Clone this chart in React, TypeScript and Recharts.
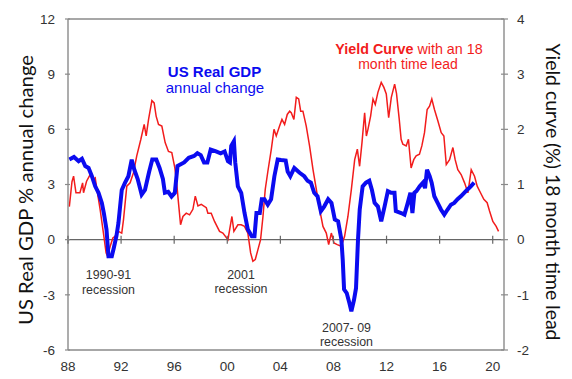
import React from "react"
import { LineChart, Line, XAxis, YAxis, ReferenceLine } from "recharts"

// US real GDP, % annual change (left axis), quarterly readings
const gdp: [number, number][] = [
  [1988.1, 4.36], [1988.45, 4.5], [1988.8, 4.27], [1989.05, 4.4], [1989.3, 4.0], [1989.55, 3.9],
  [1989.8, 3.45], [1990.05, 2.9], [1990.3, 2.55], [1990.55, 2.0], [1990.7, 1.45], [1990.9, 0.55],
  [1991.05, -0.9], [1991.3, -0.9], [1991.45, -0.45], [1991.65, 0.2], [1991.8, 0.9], [1992.05, 2.7],
  [1992.3, 3.1], [1992.55, 3.45], [1992.8, 4.35], [1993.0, 3.8], [1993.25, 3.3], [1993.55, 2.45],
  [1993.8, 2.7], [1994.1, 3.65], [1994.35, 4.36], [1994.65, 4.36], [1994.9, 3.9], [1995.15, 3.3],
  [1995.3, 2.55], [1995.55, 2.6], [1995.8, 2.35], [1996.05, 2.55], [1996.25, 4.0], [1996.75, 4.2],
  [1997.1, 4.45], [1997.5, 4.55], [1997.75, 4.7], [1998.0, 4.6], [1998.25, 4.2], [1998.5, 4.2],
  [1998.75, 4.9], [1999.15, 4.8], [1999.5, 4.7], [1999.8, 4.8], [2000.05, 4.27], [2000.2, 4.2],
  [2000.3, 5.1], [2000.5, 5.35], [2000.6, 4.2], [2000.8, 2.9], [2001.05, 2.55], [2001.3, 1.45],
  [2001.55, 0.55], [2001.85, 0.18], [2002.05, 0.18], [2002.2, 1.45], [2002.45, 1.45], [2002.6, 2.2],
  [2002.8, 2.2], [2003.05, 1.9], [2003.3, 2.2], [2003.55, 3.45], [2003.8, 4.36], [2004.05, 4.33],
  [2004.4, 4.3], [2004.55, 3.7], [2004.75, 3.45], [2005.05, 3.9], [2005.45, 3.64], [2005.8, 3.45],
  [2006.05, 3.2], [2006.3, 3.1], [2006.55, 2.55], [2006.8, 2.36], [2007.05, 1.55], [2007.3, 1.8],
  [2007.6, 2.2], [2007.85, 2.0], [2008.1, 1.1], [2008.35, 1.0], [2008.6, 0.0], [2008.7, -1.1],
  [2008.8, -2.7], [2009.0, -2.9], [2009.2, -3.45], [2009.35, -3.9], [2009.55, -3.27], [2009.7, -2.64],
  [2009.85, 0.0], [2009.98, 1.64], [2010.2, 2.9], [2010.45, 3.1], [2010.7, 3.2], [2010.9, 2.7],
  [2011.1, 2.0], [2011.35, 1.8], [2011.6, 1.0], [2011.85, 1.8], [2012.1, 2.64], [2012.35, 2.55],
  [2012.6, 2.55], [2012.7, 1.55], [2013.1, 1.45], [2013.35, 1.36], [2013.6, 2.0], [2013.8, 2.55],
  [2013.95, 1.45], [2014.1, 2.55], [2014.25, 2.64], [2014.5, 2.9], [2014.75, 3.1], [2014.9, 2.8],
  [2015.05, 3.8], [2015.25, 3.45], [2015.4, 3.1], [2015.6, 2.36], [2015.85, 2.0], [2016.1, 1.64],
  [2016.35, 1.36], [2016.6, 1.64], [2016.85, 1.9], [2017.1, 2.0], [2017.35, 2.2], [2017.6, 2.36],
  [2017.85, 2.55], [2018.1, 2.73], [2018.35, 2.9], [2018.6, 3.1],
]

// yield curve %, shifted 18 months ahead (right axis)
const yieldCurve: [number, number][] = [
  [1988.1, 0.6], [1988.3, 1.05], [1988.42, 1.15], [1988.6, 0.85], [1988.9, 0.85], [1989.1, 1.03],
  [1989.17, 0.85], [1989.4, 1.06], [1989.67, 1.18], [1989.87, 1.09], [1990.05, 1.12], [1990.22, 0.85],
  [1990.42, 0.55], [1990.67, 0.12], [1990.87, -0.24], [1990.98, -0.3], [1991.18, -0.12], [1991.38, 0.03],
  [1991.55, 0.06], [1991.8, 0.15], [1992.05, 0.12], [1992.18, 0.36], [1992.43, 0.97], [1992.68, 1.03],
  [1992.93, 1.21], [1993.18, 1.52], [1993.49, 1.82], [1993.74, 2.09], [1993.89, 1.88], [1994.07, 2.18],
  [1994.32, 2.52], [1994.49, 2.48], [1994.64, 2.24], [1994.82, 2.09], [1995.07, 2.06], [1995.32, 1.76],
  [1995.57, 1.6], [1995.82, 1.58], [1996.05, 1.3], [1996.2, 1.0], [1996.3, 0.73], [1996.48, 0.27],
  [1996.66, 0.42], [1996.91, 0.48], [1997.16, 0.45], [1997.41, 0.55], [1997.59, 0.79], [1997.79, 0.61],
  [1998.04, 0.64], [1998.42, 0.58], [1998.54, 0.48], [1998.79, 0.48], [1999.04, 0.33], [1999.42, 0.15],
  [1999.67, 0.12], [2000.05, 0.0], [2000.35, 0.42], [2000.5, 0.15], [2000.8, 0.27], [2001.05, 0.27],
  [2001.3, 0.24], [2001.55, 0.12], [2001.76, -0.24], [2001.93, -0.39], [2002.11, -0.36], [2002.31, -0.18],
  [2002.51, 0.0], [2002.69, 0.42], [2002.86, 0.91], [2003.06, 1.24], [2003.32, 1.64], [2003.52, 2.0],
  [2003.69, 1.88], [2003.94, 2.06], [2004.12, 2.18], [2004.32, 2.09], [2004.52, 2.27], [2004.7, 2.33],
  [2004.82, 2.3], [2005.02, 2.18], [2005.2, 2.58], [2005.38, 2.55], [2005.53, 2.33], [2005.7, 2.33],
  [2005.95, 2.06], [2006.2, 1.7], [2006.46, 1.27], [2006.71, 0.91], [2006.96, 0.55], [2007.21, 0.24],
  [2007.46, 0.12], [2007.64, -0.09], [2007.84, 0.12], [2008.04, -0.06], [2008.29, -0.09], [2008.59, -0.12],
  [2008.84, 0.06], [2009.09, 0.42], [2009.35, 0.91], [2009.6, 1.45], [2009.8, 1.64], [2009.97, 1.33],
  [2010.15, 1.76], [2010.35, 2.3], [2010.48, 1.88], [2010.6, 2.0], [2010.8, 2.24], [2010.98, 2.55],
  [2011.15, 2.45], [2011.35, 2.67], [2011.6, 2.85], [2011.8, 2.76], [2011.98, 2.64], [2012.16, 2.21],
  [2012.36, 2.58], [2012.61, 2.82], [2012.75, 2.65], [2012.95, 2.2], [2013.1, 1.82], [2013.23, 1.73],
  [2013.48, 1.7], [2013.65, 1.82], [2013.85, 1.3], [2014.05, 1.45], [2014.23, 1.52], [2014.48, 1.55],
  [2014.66, 1.7], [2014.86, 1.94], [2015.06, 2.36], [2015.24, 2.42], [2015.41, 2.55], [2015.61, 2.36],
  [2015.87, 2.15], [2016.12, 1.94], [2016.32, 1.88], [2016.5, 1.36], [2016.75, 1.45], [2017.0, 1.67],
  [2017.17, 1.45], [2017.37, 1.27], [2017.62, 1.18], [2017.88, 1.03], [2018.13, 0.85], [2018.38, 1.27],
  [2018.63, 1.15], [2018.83, 0.97], [2019.08, 0.85], [2019.33, 0.73], [2019.58, 0.67], [2019.76, 0.52],
  [2020.01, 0.33], [2020.26, 0.24], [2020.44, 0.15],
]

const yearTicks = [1988, 1992, 1996, 2000, 2004, 2008, 2012, 2016, 2020]
const gdpTicks = [-6, -3, 0, 3, 6, 9, 12]
const curveTicks = [-2, -1, 0, 1, 2, 3, 4]

const recessionNotes = [
  { top: "1990-91", bottom: "recession" },
  { top: "2001", bottom: "recession" },
  { top: "2007- 09", bottom: "recession" },
]

const W = 572
const H = 379
const PLOT_L = 68
const PLOT_R = 504
const PLOT_T = 19
const PLOT_B = 350
const ZERO_Y = PLOT_T + ((PLOT_B - PLOT_T) * 12) / 18

const AXIS = "#8a8a8a"
const TICK_TXT = "#333"
const BLUE = "#0b0bf0"
const RED = "#f21c1c"
const FONT = "'Liberation Sans', Arial, sans-serif"

const gdpData = gdp.map(([year, value]) => ({ year, value }))
const curveData = yieldCurve.map(([year, value]) => ({ year, value }))

const XTick = (props: any) => {
  const { x, y, payload } = props
  const label = String(payload.value % 100).padStart(2, "0")
  return (
    <g>
      <line x1={x} x2={x} y1={ZERO_Y - 4} y2={ZERO_Y + 4} stroke="#666" strokeWidth={1.2} />
      <text x={x} y={y} dy="0.71em" textAnchor="middle" fontSize={13.5} fill={TICK_TXT} fontFamily={FONT}>
        {label}
      </text>
    </g>
  )
}

const LeftTick = (props: any) => {
  const { x, y, payload } = props
  return (
    <g>
      <line x1={PLOT_L - 3} x2={PLOT_L + 2} y1={y} y2={y} stroke={AXIS} strokeWidth={1.2} />
      <text x={x} y={y} dy="0.35em" textAnchor="end" fontSize={13.5} fill={TICK_TXT} fontFamily={FONT}>
        {payload.value}
      </text>
    </g>
  )
}

const RightTick = (props: any) => {
  const { x, y, payload } = props
  return (
    <g>
      <line x1={PLOT_R - 3} x2={PLOT_R + 4} y1={y} y2={y} stroke={AXIS} strokeWidth={1.2} />
      <text x={x} y={y} dy="0.35em" textAnchor="start" fontSize={13.5} fill={TICK_TXT} fontFamily={FONT}>
        {payload.value}
      </text>
    </g>
  )
}

export default function App() {
  const notePos = [
    { x: 108.5, y: 279.3 },
    { x: 241, y: 278.5 },
    { x: 346.5, y: 331.7 },
  ]
  return (
    <div style={{ position: "absolute", left: 0, top: 0, width: W, height: H, background: "#fff" }}>
      <LineChart
        width={W}
        height={H}
        margin={{ top: PLOT_T, right: 0, bottom: 0, left: 0 }}
      >
        <XAxis
          dataKey="year"
          type="number"
          domain={[1988, 2020.85]}
          ticks={yearTicks}
          allowDataOverflow
          height={H - PLOT_B}
          stroke={AXIS}
          strokeWidth={1.4}
          tickLine={false}
          tickSize={6}
          tickMargin={5}
          tick={<XTick />}
        />
        <YAxis
          yAxisId="gdp"
          domain={[-6, 12]}
          ticks={gdpTicks}
          width={PLOT_L}
          stroke={AXIS}
          strokeWidth={1.4}
          tickLine={false}
          tickSize={4}
          tickMargin={9}
          tick={<LeftTick />}
        />
        <YAxis
          yAxisId="curve"
          orientation="right"
          domain={[-2, 4]}
          ticks={curveTicks}
          width={W - PLOT_R}
          stroke={AXIS}
          strokeWidth={1.4}
          tickLine={false}
          tickSize={4}
          tickMargin={9}
          tick={<RightTick />}
        />
        <ReferenceLine yAxisId="gdp" y={12} stroke={AXIS} strokeWidth={1.4} />
        <ReferenceLine yAxisId="gdp" y={0} stroke="#666" strokeWidth={1.2} />
        <Line
          yAxisId="curve"
          data={curveData}
          dataKey="value"
          type="linear"
          stroke={RED}
          strokeWidth={1.5}
          dot={false}
          isAnimationActive={false}
        />
        <Line
          yAxisId="gdp"
          data={gdpData}
          dataKey="value"
          type="linear"
          stroke={BLUE}
          strokeWidth={4}
          dot={false}
          isAnimationActive={false}
        />
      </LineChart>
      <svg
        width={W}
        height={H}
        style={{ position: "absolute", left: 0, top: 0, pointerEvents: "none" }}
      >
        <text
          transform="translate(25,190) rotate(-90)"
          textAnchor="middle"
          dominantBaseline="central"
          fontSize={20}
          fontFamily="Lato, 'Noto Sans', sans-serif"
          fill="#111"
          textLength={270}
          lengthAdjust="spacingAndGlyphs"
        >
          US Real GDP % annual change
        </text>
        <text
          transform="translate(554,192) rotate(90)"
          textAnchor="middle"
          dominantBaseline="central"
          fontSize={20}
          fontFamily="Lato, 'Noto Sans', sans-serif"
          fill="#111"
          textLength={297}
          lengthAdjust="spacingAndGlyphs"
        >
          Yield curve (%) 18 month time lead
        </text>

        <text x={214.5} y={76.5} textAnchor="middle" fontSize={15} fontWeight="bold" fill={BLUE} fontFamily={FONT}>
          US Real GDP
        </text>
        <text x={215} y={92.5} textAnchor="middle" fontSize={15} fill={BLUE} fontFamily={FONT}>
          annual change
        </text>

        <text x={409} y={53.5} textAnchor="middle" fontSize={14.3} fill={RED} fontFamily={FONT}>
          <tspan fontWeight="bold">Yield Curve</tspan>
          <tspan> with an 18</tspan>
        </text>
        <text x={408} y={69} textAnchor="middle" fontSize={14} fill={RED} fontFamily={FONT}>
          month time lead
        </text>

        {recessionNotes.map((n, i) => (
          <g key={n.top}>
            <text x={notePos[i].x} y={notePos[i].y} textAnchor="middle" fontSize={12.4} fill="#333" fontFamily={FONT}>
              {n.top}
            </text>
            <text x={notePos[i].x} y={notePos[i].y + 14.5} textAnchor="middle" fontSize={12.4} fill="#333" fontFamily={FONT}>
              {n.bottom}
            </text>
          </g>
        ))}
      </svg>
    </div>
  )
}
